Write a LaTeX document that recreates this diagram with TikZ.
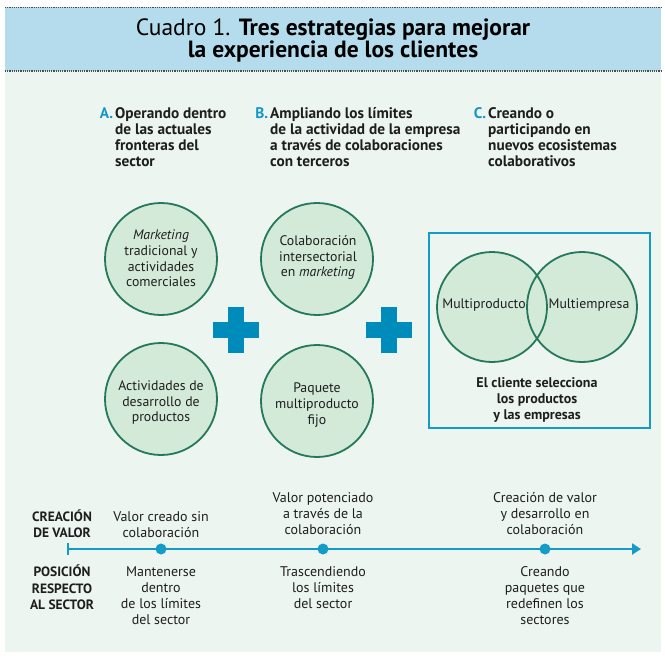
\documentclass[tikz,border=0pt]{standalone}
\usepackage{fontspec}
\setmainfont{PT Sans}
\usetikzlibrary{arrows.meta}
\definecolor{panelbg}{RGB}{236,245,240}
\definecolor{bandbg}{RGB}{180,220,236}
\definecolor{circfill}{RGB}{212,234,216}
\definecolor{circline}{RGB}{36,120,92}
\definecolor{plusblue}{RGB}{0,140,186}
\definecolor{lineblue}{RGB}{20,156,200}
\definecolor{letterblue}{RGB}{20,150,200}
\definecolor{txt}{RGB}{30,30,30}
\tikzset{
  bubble/.style={circle, fill=circfill, draw=circline, line width=1.8pt, minimum size=112pt, inner sep=0pt},
  vennfill/.style={circle, fill=circfill, minimum size=110pt, inner sep=0pt},
  ctext/.style={align=center, inner sep=0pt, text=txt, font=\fontsize{13.8}{15.6}\selectfont},
  head/.style={align=left, inner sep=0pt, anchor=north west, text=txt, font=\fontsize{15.3}{16}\selectfont\bfseries},
  tltext/.style={align=center, inner sep=0pt, text=txt, font=\fontsize{14}{16}\selectfont},
  tlhead/.style={align=center, inner sep=0pt, text=txt, font=\fontsize{13.5}{16.5}\selectfont\bfseries},
  tldot/.style={circle, fill=lineblue, minimum size=11pt, inner sep=0pt},
  plusmark/.pic={\fill[plusblue] (-23,-8) rectangle (23,8); \fill[plusblue] (-8,-23) rectangle (8,23);}
}
\newcommand{\lettr}[1]{\llap{\textcolor{letterblue}{#1}\hspace{2pt}}}
\begin{document}
\begin{tikzpicture}[x=1pt,y=-1pt]
\useasboundingbox (0,0) rectangle (665,659);
\fill[white] (0,0) rectangle (665,659);
% panel and header band
\fill[panelbg] (5,7) rectangle (661,652);
\fill[bandbg] (5,7) rectangle (661,71);
\draw[black!70, line width=1.2pt, dash pattern=on 1.2pt off 1pt] (5,7.5) -- (661,7.5);
\draw[black!70, line width=1.2pt, dash pattern=on 1.2pt off 1pt] (5,71) -- (661,71);
\node[align=center, inner sep=0pt, text=black, font=\fontsize{23.5}{22}\selectfont] (title) at (333,40)
  {Cuadro 1. \textbf{Tres estrategias para mejorar}\\ \textbf{la experiencia de los clientes}};
% column headings
\node[head] (ha) at (115,107) {\lettr{A.}Operando dentro\\de las actuales\\fronteras del\\sector};
\node[head] (hb) at (270,107) {\lettr{B.}Ampliando los límites\\de la actividad de la empresa\\a través de colaboraciones\\con terceros};
\node[head] (hc) at (488,107) {\lettr{C.}Creando o\\participando en\\nuevos ecosistemas\\colaborativos};
% circles
\node[bubble] (c1) at (161,259) {};
\node[bubble] (c2) at (317,259) {};
\node[bubble] (c3) at (161,399) {};
\node[bubble] (c4) at (317,401) {};
\node[ctext] (t1) at (161,258.5) {\textit{Marketing}\\tradicional y\\actividades\\comerciales};
\node[ctext] (t2) at (318,257.5) {Colaboración\\intersectorial\\en \textit{marketing}};
\node[ctext] (t3) at (161,402.5) {Actividades de\\desarrollo de\\productos};
\node[ctext] (t4) at (317,405) {Paquete\\multiproducto\\fijo};
% plus signs
\pic at (236,330) {plusmark};
\pic at (389,330) {plusmark};
% box C
\node[draw=lineblue, line width=2pt, minimum width=221pt, minimum height=195pt, inner sep=0pt] (boxc) at (539.5,330.5) {};
\node[vennfill] (v1) at (492,307) {};
\node[vennfill] (v2) at (582,307) {};
\draw[circline, line width=1.8pt] (v1.center) circle[radius=55];
\draw[circline, line width=1.8pt] (v2.center) circle[radius=55];
\node[ctext] (m1) at (484,305) {Multiproducto};
\node[ctext] (m2) at (589,305) {Multiempresa};
\node[ctext, font=\fontsize{14}{16}\selectfont\bfseries] (cli) at (537,400) {El cliente selecciona\\los productos\\y las empresas};
% timeline
\coordinate (tl0) at (68,549);
\coordinate (tl1) at (641,549);
\draw[lineblue, line width=2.2pt, -{Triangle[length=9pt,width=11pt]}] (tl0) -- (tl1);
\draw[lineblue, line width=2pt] ([yshift=-6pt]tl0) -- ([yshift=6pt]tl0);
\node[tldot] (d1) at (161,549) {};
\node[tldot] (d2) at (323,549) {};
\node[tldot] (d3) at (545,549) {};
\node[tlhead] (lh1) at (62,523.5) {CREACIÓN\\DE VALOR};
\node[tlhead] (lh2) at (62,587.5) {POSICIÓN\\RESPECTO\\AL SECTOR};
\node[tltext] (a1) at (161,525) {Valor creado sin\\colaboración};
\node[tltext] (a2) at (323,513.5) {Valor potenciado\\a través de la\\colaboración};
\node[tltext] (a3) at (545,513.5) {Creación de valor\\y desarrollo en\\colaboración};
\node[tltext] (b1) at (161,595.5) {Mantenerse\\dentro\\de los límites\\del sector};
\node[tltext] (b2) at (323,587.5) {Trascendiendo\\los límites\\del sector};
\node[tltext] (b3) at (545,595.5) {Creando\\paquetes que\\redefinen los\\sectores};
\end{tikzpicture}
\end{document}
